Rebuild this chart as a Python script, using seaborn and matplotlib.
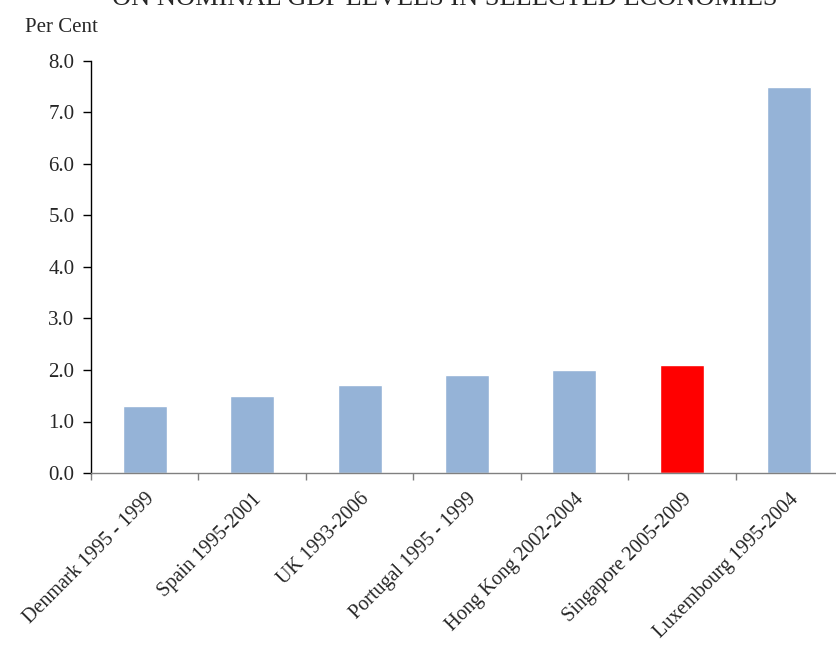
import numpy as np
import pandas as pd
import seaborn as sns
import matplotlib.pyplot as plt
from matplotlib.ticker import FixedLocator

economies = ["Denmark 1995 - 1999", "Spain 1995-2001", "UK 1993-2006",
             "Portugal 1995 - 1999", "Hong Kong 2002-2004",
             "Singapore 2005-2009", "Luxembourg 1995-2004"]
impact = [1.3, 1.5, 1.7, 1.9, 2.0, 2.1, 7.5]
bar_colours = ["#95B3D7", "#95B3D7", "#95B3D7", "#95B3D7", "#95B3D7",
               "#FF0000", "#95B3D7"]
y_ticks = [0.0, 1.0, 2.0, 3.0, 4.0, 5.0, 6.0, 7.0, 8.0]

sns.set_style("white")
plt.rcParams['font.family'] = ['Liberation Serif', 'DejaVu Serif']

df = pd.DataFrame({"Economy": economies, "Impact": impact})

fig = plt.figure(figsize=(8.36, 6.45), dpi=100)
ax = fig.add_axes([91 / 836, 1 - 473 / 645, 1 - 91 / 836, (473 - 61) / 645])

sns.barplot(data=df, x="Economy", y="Impact", hue="Economy",
            palette=bar_colours, legend=False, width=0.41, ax=ax,
            saturation=1)

ax.set_xlim(-0.5, 6.435)
ax.set_ylim(0, 8)
ax.set_yticks(y_ticks)
ax.set_yticklabels([f"{v:.1f}" for v in y_ticks], fontsize=15)
ax.set_xlabel("")
ax.set_ylabel("")

ax.set_xticks(range(len(economies)))
ax.set_xticklabels(economies, rotation=45, ha="right",
                   rotation_mode="anchor", fontsize=14.5)
ax.xaxis.set_minor_locator(FixedLocator(np.arange(-0.5, 6.0, 1.0)))
ax.tick_params(axis="x", which="major", length=0, pad=12)
ax.tick_params(axis="x", which="minor", length=5, color="#808080",
               width=1, direction="out", bottom=True)
ax.tick_params(axis="y", length=6, color="black", width=1,
               direction="out", left=True, pad=6)

for side in ["top", "right"]:
    ax.spines[side].set_visible(False)
ax.spines["left"].set_color("black")
ax.spines["bottom"].set_color("#808080")
ax.spines["left"].set_linewidth(1)
ax.spines["bottom"].set_linewidth(1)

fig.text(25 / 836, 1 - 27 / 645, "Per Cent", fontsize=15, va="center",
         ha="left")
fig.text(445 / 836, 1 - 5 / 645, "ON NOMINAL GDP LEVELS IN SELECTED ECONOMIES",
         fontsize=19, ha="center", va="baseline")

fig.savefig("out.png", dpi=100)
